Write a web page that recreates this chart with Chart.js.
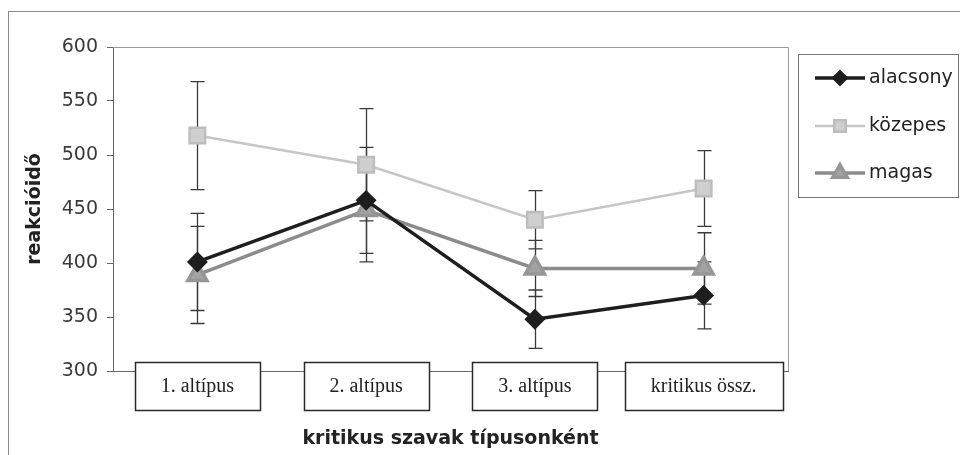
<!DOCTYPE html>
<html>
<head>
<meta charset="utf-8">
<script src="https://cdn.jsdelivr.net/npm/chart.js@4.4.0/dist/chart.umd.min.js"></script>
<style>
  html, body { margin: 0; padding: 0; background: #fff; }
  #wrap { width: 960px; height: 455px; position: relative; }
</style>
</head>
<body>
<div id="wrap"><canvas id="chart"></canvas></div>
<script>
// Data
const categories = ['1. altípus', '2. altípus', '3. altípus', 'kritikus össz.'];
const seriesNames = ['alacsony', 'közepes', 'magas'];
const alacsony = [401, 458, 348, 370];
const kozepes = [518, 491, 440, 469];
const magas = [389, 449, 395, 395];
const alacsonyErr = [45, 49, 27, 31];
const kozepesErr = [50, 52, 27, 35];
const magasErr = [45, 48, 26, 33];
const yTicks = [300, 350, 400, 450, 500, 550, 600];

const errors = [alacsonyErr, kozepesErr, magasErr];

// outer frame, plot frame, error bars, category boxes
const decorPlugin = {
    id: 'decor',
    beforeDraw(chart) {
        const ctx = chart.ctx;
        ctx.save();
        ctx.strokeStyle = '#8a8a8a';
        ctx.lineWidth = 1;
        ctx.strokeRect(8.5, 11.5, 1000, 1000);
        ctx.restore();
    },
    beforeDatasetsDraw(chart) {
        const ctx = chart.ctx;
        const area = chart.chartArea;
        const x = chart.scales.x, y = chart.scales.y;
        ctx.save();
        // top + right frame of plot area
        ctx.strokeStyle = '#9a9a9a';
        ctx.lineWidth = 1;
        ctx.beginPath();
        ctx.moveTo(area.left, area.top + 0.5);
        ctx.lineTo(area.right + 0.5, area.top + 0.5);
        ctx.lineTo(area.right + 0.5, area.bottom);
        ctx.stroke();

        // error bars
        ctx.strokeStyle = '#3a3a3a';
        ctx.lineWidth = 1.3;
        chart.data.datasets.forEach((ds, di) => {
            ds.data.forEach((v, i) => {
                const e = errors[di][i];
                const px = Math.round(x.getPixelForValue(i)) + 0.5;
                const top = y.getPixelForValue(v + e);
                const bot = y.getPixelForValue(v - e);
                ctx.beginPath();
                ctx.moveTo(px, top); ctx.lineTo(px, bot);
                ctx.moveTo(px - 7, top); ctx.lineTo(px + 7, top);
                ctx.moveTo(px - 7, bot); ctx.lineTo(px + 7, bot);
                ctx.stroke();
            });
        });

        // category label boxes
        ctx.font = '20px "Liberation Serif", "Times New Roman", serif';
        ctx.textAlign = 'center';
        ctx.textBaseline = 'middle';
        categories.forEach((c, i) => {
            const cx = x.getPixelForValue(i);
            const w = Math.round(ctx.measureText(c).width + 52);
            const left = Math.round(cx - w / 2) + 0.5;
            ctx.fillStyle = '#fff';
            ctx.fillRect(left, 362.5, w, 48);
            ctx.strokeStyle = '#2a2a2a';
            ctx.lineWidth = 1.5;
            ctx.strokeRect(left, 362.5, w, 48);
            ctx.fillStyle = '#222';
            ctx.fillText(c, cx, 387);
        });
        ctx.restore();
    },
    afterDraw(chart) {
        // legend
        const ctx = chart.ctx;
        ctx.save();
        ctx.strokeStyle = '#777';
        ctx.lineWidth = 1;
        ctx.strokeRect(798.5, 54.5, 160, 143);
        const rows = [78, 126, 173];
        chart.data.datasets.forEach((ds, i) => {
            const yy = rows[i];
            ctx.strokeStyle = ds.borderColor;
            ctx.lineWidth = ds.borderWidth;
            ctx.beginPath();
            ctx.moveTo(815, yy); ctx.lineTo(865, yy);
            ctx.stroke();
            ctx.fillStyle = ds.pointBackgroundColor;
            ctx.strokeStyle = ds.pointBorderColor;
            Chart.helpers.drawPoint(ctx, {
                pointStyle: ds.pointStyle, radius: ds.pointRadius * 0.75,
                rotation: 0, borderWidth: 1
            }, 840, yy);
            ctx.fillStyle = '#222';
            ctx.font = '19px "DejaVu Sans", Arial, sans-serif';
            ctx.textAlign = 'left';
            ctx.textBaseline = 'middle';
            ctx.fillText(seriesNames[i], 869, yy);
        });
        ctx.restore();
    }
};

new Chart(document.getElementById('chart'), {
    type: 'line',
    data: {
        labels: categories,
        datasets: [
            {
                label: seriesNames[0], data: alacsony,
                borderColor: '#1e1e1e', borderWidth: 3.5,
                pointStyle: 'rectRot', pointRadius: 8,
                pointBackgroundColor: '#1e1e1e', pointBorderColor: '#1e1e1e'
            },
            {
                label: seriesNames[1], data: kozepes,
                borderColor: '#c6c6c6', borderWidth: 2.5,
                pointStyle: 'rect', pointRadius: 11,
                pointBackgroundColor: '#cfcfcf', pointBorderColor: '#bdbdbd'
            },
            {
                label: seriesNames[2], data: magas,
                borderColor: '#8c8c8c', borderWidth: 3.5,
                pointStyle: 'triangle', pointRadius: 11,
                pointBackgroundColor: '#a2a2a2', pointBorderColor: '#969696'
            }
        ]
    },
    options: {
        responsive: true,
        maintainAspectRatio: false,
        animation: false,
        layout: { padding: { top: 47, right: 172, left: 0, bottom: 0 } },
        plugins: { legend: { display: false }, tooltip: { enabled: false } },
        elements: { line: { tension: 0 }, point: { borderWidth: 1 } },
        scales: {
            x: {
                offset: true,
                grid: { display: false },
                border: { color: '#666', width: 1 },
                ticks: { display: false },
                title: {
                    display: true, text: 'kritikus szavak típusonként',
                    color: '#222', padding: { top: 0, bottom: 5 },
                    font: { family: '"DejaVu Sans", Arial, sans-serif', size: 19, weight: 'bold' }
                },
                afterFit: s => { s.height = 84; }
            },
            y: {
                min: 300, max: 600,
                afterBuildTicks: s => { s.ticks = yTicks.map(v => ({ value: v })); },
                grid: { drawOnChartArea: false, drawTicks: true, tickLength: 6, color: '#666' },
                border: { color: '#666', width: 1 },
                ticks: {
                    color: '#3a3a3a', padding: 9,
                    font: { family: '"DejaVu Sans", Arial, sans-serif', size: 19 }
                },
                title: {
                    display: true, text: 'reakcióidő', color: '#222',
                    padding: { top: 24, bottom: 0 },
                    font: { family: '"DejaVu Sans", Arial, sans-serif', size: 19, weight: 'bold' }
                },
                afterFit: s => { s.width = 113; }
            }
        }
    },
    plugins: [decorPlugin]
});
</script>
</body>
</html>
